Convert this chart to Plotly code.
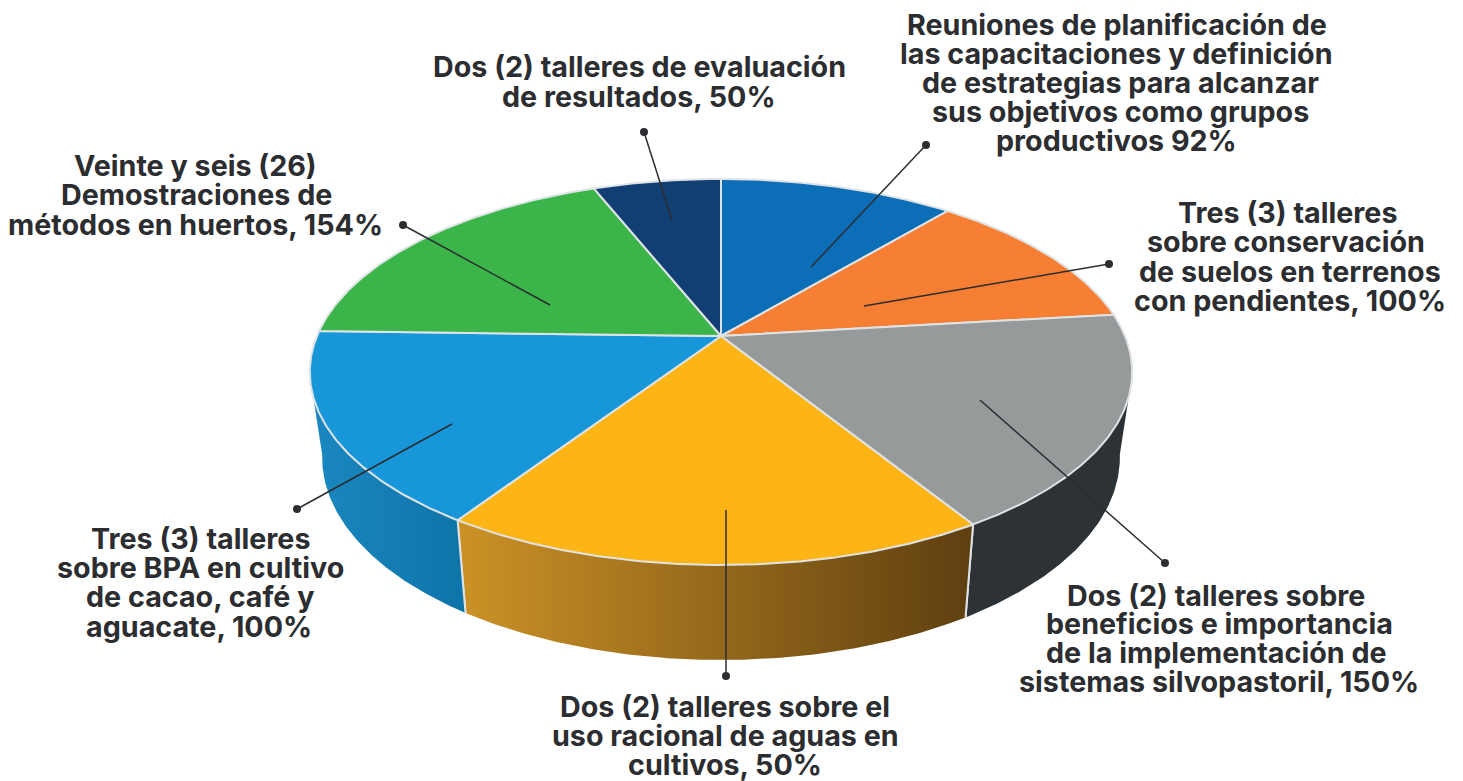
import math
import plotly.graph_objects as go

# ---- data (slice sizes as drawn; clockwise from 12 o'clock) ----
slice_names = ["Reuniones", "Conservación", "Silvopastoril", "Aguas", "BPA", "Huertos", "Evaluación"]
slice_values = [92, 100, 150, 150, 134, 154, 50]
top_colors = ["#0d6eb8", "#f67f33", "#969a9a", "#fdb515", "#1797d9", "#3bb54a", "#123f73"]
side_left = ["#1a87bf", "#1a87bf", "#2c3235", "#cc9226", "#1a87c0", "#1a87bf", "#1a87bf"]
side_right = ["#1a87bf", "#1a87bf", "#2c3235", "#5e3f10", "#0e74a8", "#1a87bf", "#1a87bf"]

label_lines = [
    ["Reuniones de planificación de", "las capacitaciones y definición", "de estrategias para alcanzar",
     "sus objetivos como grupos", "productivos 92%"],
    ["Tres (3) talleres", "sobre conservación", "de suelos en terrenos", "con pendientes, 100%"],
    ["Dos (2) talleres sobre", "beneficios e importancia", "de la implementación de", "sistemas silvopastoril, 150%"],
    ["Dos (2) talleres sobre el", "uso racional de aguas en", "cultivos, 50%"],
    ["Tres (3) talleres", "sobre BPA en cultivo", "de cacao, café y", "aguacate, 100%"],
    ["Veinte y seis (26)", "Demostraciones de", "métodos en huertos, 154%"],
    ["Dos (2) talleres de evaluación", "de resultados, 50%"],
]
label_centres = [
    [(1117, 24), (1116, 53), (1120, 82), (1120, 111), (1116, 140)],
    [(1287, 212), (1286, 241), (1290, 271), (1290, 300)],
    [(1216, 595), (1219, 623), (1216, 652), (1219, 681)],
    [(725, 706), (725, 735), (725, 764)],
    [(200, 538), (200, 567), (200, 596), (199, 626)],
    [(195, 165), (196, 194), (195, 224)],
    [(639, 66), (639, 96)],
]
leaders = [
    ((926, 145), (811, 267)),
    ((1109, 264), (864, 306)),
    ((1165, 563), (980, 400)),
    ((726, 676), (726, 510)),
    ((297, 509), (452, 424)),
    ((403, 225), (550, 305)),
    ((644, 132), (672, 220)),
]

# ---- perspective pie geometry ----
CX, CY = 721, 336
K, A, B = -0.1865, 186.3, 404.0
DEPTH_Y, SCALE_X, SCALE_Y = 83.5, 0.97, 1.05
FRONT_TOP = (108, 252)
FRONT_BOT = (100, 260)
TEXT = "#2b2d30"
EDGE = "#dfe3e6"
FONT = "Inter"
FONT_SIZE = 28.7


def top_pt(deg):
    r = math.radians(deg)
    u, v = math.sin(r), -math.cos(r)
    w = 1 + K * v
    return CX + B * u / w, CY + A * v / w


def bot_pt(deg):
    x, y = top_pt(deg)
    return CX + SCALE_X * (x - CX), CY + DEPTH_Y + SCALE_Y * (y - CY)


def arc(fn, a, b):
    n = max(2, int(abs(b - a) * 2))
    return [fn(a + (b - a) * i / n) for i in range(n + 1)]


total = sum(slice_values)
edges = [0]
for val in slice_values:
    edges.append(edges[-1] + 360 * val / total)

fig = go.Figure()

# side walls
for i, name in enumerate(slice_names):
    a, b = edges[i], edges[i + 1]
    ta, tb = max(a, FRONT_TOP[0]), min(b, FRONT_TOP[1])
    ba, bb = max(a, FRONT_BOT[0]), min(b, FRONT_BOT[1])
    if tb <= ta:
        continue
    pts = arc(top_pt, ta, tb) + arc(bot_pt, bb, ba)
    pts.append(pts[0])
    fig.add_trace(go.Scatter(
        x=[p[0] for p in pts], y=[p[1] for p in pts], mode="lines", name=name + " lado",
        line=dict(width=0), fill="toself", hoverinfo="skip",
        fillgradient=dict(type="horizontal", colorscale=[[0, side_left[i]], [1, side_right[i]]]),
    ))
    # vertical seams between walls
    for deg in (a, b):
        if FRONT_TOP[0] < deg < FRONT_TOP[1]:
            p, q = top_pt(deg), bot_pt(deg)
            fig.add_trace(go.Scatter(x=[p[0], q[0]], y=[p[1], q[1]], mode="lines",
                                     line=dict(color=EDGE, width=2), hoverinfo="skip"))

# top surface
for i, name in enumerate(slice_names):
    pts = [(CX, CY)] + arc(top_pt, edges[i], edges[i + 1]) + [(CX, CY)]
    fig.add_trace(go.Scatter(
        x=[p[0] for p in pts], y=[p[1] for p in pts], mode="lines", name=name,
        line=dict(color=EDGE, width=2), fill="toself", fillcolor=top_colors[i], hoverinfo="skip",
    ))

# leader lines
for outer, inner in leaders:
    fig.add_trace(go.Scatter(
        x=[outer[0], inner[0]], y=[outer[1], inner[1]], mode="lines",
        line=dict(color=TEXT, width=1.5), hoverinfo="skip",
    ))
    fig.add_trace(go.Scatter(
        x=[outer[0]], y=[outer[1]], mode="markers",
        marker=dict(size=8, color=TEXT, line=dict(width=0)), hoverinfo="skip",
    ))

annotations = []
for lines, centres in zip(label_lines, label_centres):
    for text, (x, y) in zip(lines, centres):
        annotations.append(dict(
            x=x, y=y, xref="x", yref="y", text="<b>" + text + "</b>", showarrow=False,
            xanchor="center", yanchor="middle", font=dict(family=FONT, size=FONT_SIZE, color=TEXT),
        ))

fig.update_layout(
    width=1463, height=781, margin=dict(l=0, r=0, t=0, b=0), showlegend=False,
    paper_bgcolor="white", plot_bgcolor="white", annotations=annotations,
    xaxis=dict(range=[0, 1463], visible=False, fixedrange=True),
    yaxis=dict(range=[781, 0], visible=False, fixedrange=True),
)
fig.write_html("out.html", config={"displayModeBar": False},
               post_script="document.body.style.margin='0';document.body.style.overflow='hidden';")
